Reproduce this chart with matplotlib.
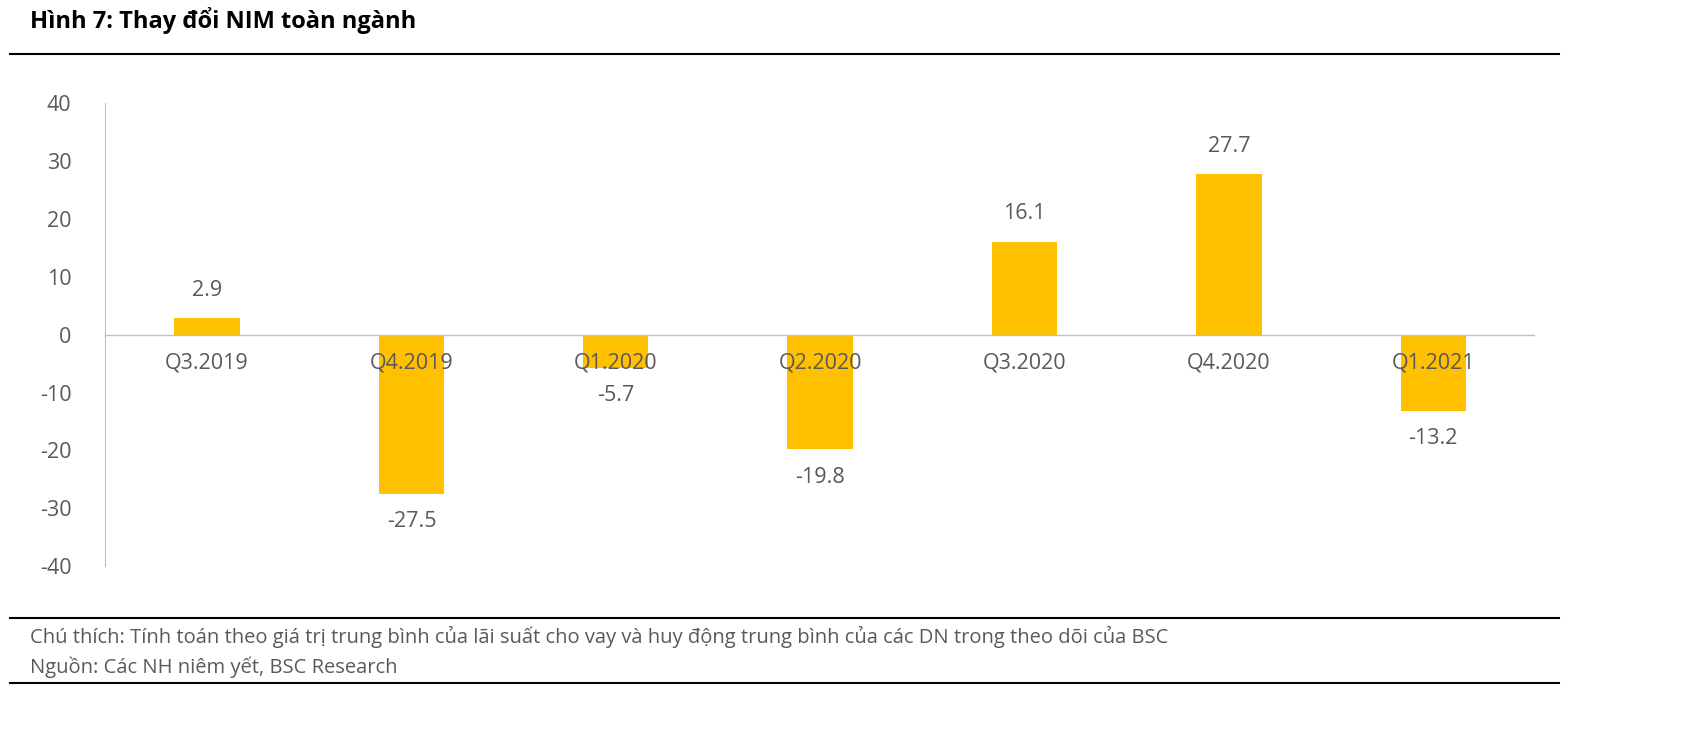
import matplotlib
matplotlib.use("Agg")
import matplotlib.pyplot as plt
from matplotlib.lines import Line2D

categories = ["Q3.2019", "Q4.2019", "Q1.2020", "Q2.2020", "Q3.2020", "Q4.2020", "Q1.2021"]
values = [2.9, -27.5, -5.7, -19.8, 16.1, 27.7, -13.2]
yticks = [-40, -30, -20, -10, 0, 10, 20, 30, 40]

plt.rcParams['font.family'] = ['Open Sans', 'DejaVu Sans']
grey = "#595959"
fig = plt.figure(figsize=(16.91, 7.38), dpi=100)
ax = fig.add_axes([0.062, 0.233, 0.846, 0.627])
x = range(len(categories))
ax.bar(x, values, width=0.32, color="#FFC000", zorder=2)
ax.set_xlim(-0.5, len(categories) - 0.5)
ax.set_ylim(-40, 40)
ax.set_yticks(yticks)
ax.set_yticklabels([str(t) for t in yticks], fontsize=15.5, color=grey)
ax.tick_params(axis='y', length=0, pad=24)
ax.set_xticks([])
for s in ["top", "right", "bottom"]:
    ax.spines[s].set_visible(False)
ax.spines["left"].set_color("#BFBFBF")
ax.axhline(0, color="#BFBFBF", lw=1, zorder=3)
for i, (c, v) in enumerate(zip(categories, values)):
    ax.text(i, -3.0, c, ha="center", va="top", fontsize=15.5, color=grey, zorder=4)
    if v >= 0:
        ax.text(i, v + 3.0, f"{v:.1f}", ha="center", va="bottom", fontsize=15.5, color=grey)
    else:
        ax.text(i, v - 3.0, f"{v:.1f}", ha="center", va="top", fontsize=15.5, color=grey)

fig.text(0.018, 0.972, "Hình 7: Thay đổi NIM toàn ngành", fontsize=17, fontweight="bold",
         ha="left", va="center", color="black")
for yy in [1 - 54/738, 1 - 618/738, 1 - 683/738]:
    fig.add_artist(Line2D([0.006, 0.922], [yy, yy], color="black", lw=1.5, transform=fig.transFigure))
fig.text(0.018, 1 - 637/738, "Chú thích: Tính toán theo giá trị trung bình của lãi suất cho vay và huy động trung bình của các DN trong theo dõi của BSC",
         fontsize=14.5, color=grey, ha="left", va="center")
fig.text(0.018, 1 - 667/738, "Nguồn: Các NH niêm yết, BSC Research",
         fontsize=14.5, color=grey, ha="left", va="center")
fig.savefig("out.png", dpi=100)
